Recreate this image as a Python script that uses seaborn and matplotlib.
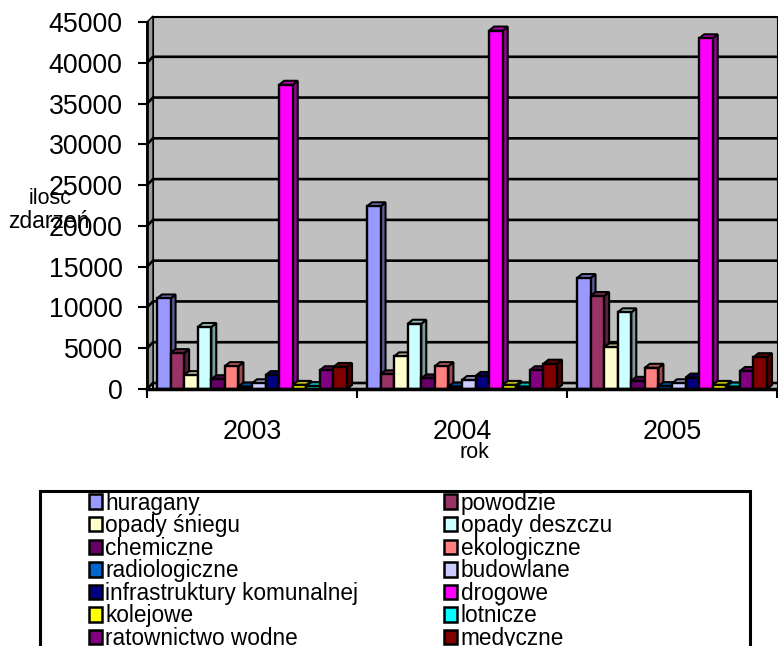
import matplotlib
matplotlib.use('Agg')
import matplotlib.pyplot as plt
from matplotlib.patches import Polygon, Rectangle
from matplotlib.transforms import IdentityTransform
import seaborn as sns
import pandas as pd

years = ['2003', '2004', '2005']
types = ['huragany', 'powodzie', 'opady śniegu', 'opady deszczu', 'chemiczne', 'ekologiczne',
         'radiologiczne', 'budowlane', 'infrastruktury komunalnej', 'drogowe', 'kolejowe',
         'lotnicze', 'ratownictwo wodne', 'medyczne']
colors = ['#9999FF', '#993366', '#FFFFCC', '#CCFFFF', '#660066', '#FF8080', '#0066CC',
          '#CCCCFF', '#000080', '#FF00FF', '#FFFF00', '#00FFFF', '#800080', '#800000']
v2003 = [11100, 4400, 1700, 7600, 1200, 2800, 300, 700, 1700, 37300, 500, 350, 2300, 2700]
v2004 = [22400, 1800, 4000, 8000, 1300, 2800, 300, 1100, 1600, 43950, 500, 300, 2300, 3100]
v2005 = [13600, 11400, 5100, 9400, 1000, 2600, 350, 700, 1400, 43000, 500, 300, 2200, 3900]

W, H = 778, 646
DX, DY = 6, 6

df = pd.DataFrame({'rok': years, **{t: [a, b, c] for t, a, b, c in zip(types, v2003, v2004, v2005)}})
df = df.melt(id_vars='rok', var_name='typ', value_name='ilosc')

sns.set_theme(style='white')
plt.rcParams['font.family'] = ['Liberation Sans', 'DejaVu Sans']

fig = plt.figure(figsize=(W / 100, H / 100), dpi=100)
ax = fig.add_axes([147 / W, 1 - 389 / H, 630 / W, 367 / H])

sns.barplot(data=df, x='rok', y='ilosc', hue='typ', hue_order=types, palette=colors, saturation=1,
            width=0.905, gap=0, edgecolor='black', linewidth=1.7, ax=ax, zorder=5)

ax.set_xlim(-0.5, 2.5)
ax.set_ylim(0, 45000)
ax.patch.set_visible(False)
for s in ['top', 'right']:
    ax.spines[s].set_visible(False)
ax.spines['left'].set_linewidth(2)
ax.spines['bottom'].set_linewidth(2.5)
ax.spines['bottom'].set_zorder(12)
ax.spines['left'].set_color('black')
ax.spines['bottom'].set_color('black')

ax.set_yticks(range(0, 45001, 5000))
ax.tick_params(axis='y', labelsize=19.3, length=6.5, width=1.5, color='black', left=True, pad=11, labelcolor='black')
ax.set_xticks([0, 1, 2], years)
ax.set_xticks([-0.5, 0.5, 1.5, 2.5], minor=True)
ax.tick_params(axis='x', which='major', length=0, labelsize=19.3, pad=21.5, labelcolor='black')
ax.tick_params(axis='x', which='minor', length=6.5, width=1.5, color='black', bottom=True)
ax.set_xlabel('')
ax.set_ylabel('')
ax.legend_.remove()

# scianki wykresu
to_px = ax.transData.transform
x0, y0 = to_px((-0.5, 0))
x1, y1 = to_px((2.5, 45000))
idt = IdentityTransform()
wall = Rectangle((x0 + DX, y0), W - x0 - DX, y1 - y0 + DY - 1, transform=idt, facecolor='#C0C0C0',
                 edgecolor='black', linewidth=1.5, zorder=1)
fig.add_artist(wall)
side = Polygon([(x0, y0), (x0 + DX, y0 + DY), (x0 + DX, y1 + DY), (x0, y1)], transform=idt,
               facecolor='#9A9A9A', edgecolor='black', linewidth=1, zorder=1)
fig.add_artist(side)
for v in range(0, 45000, 5000):
    _, y = to_px((0, v))
    fig.add_artist(plt.Line2D([x0, x0 + DX, W], [y, y + DY, y + DY], transform=idt,
                              color='black', linewidth=1.9, zorder=1.5))
ax.set_zorder(3)

# boki i wierzch slupkow
def shade(c, f):
    r, g, b = matplotlib.colors.to_rgb(c)
    return (r * f, g * f, b * f)

for container, col in zip(ax.containers, colors):
    for bar in container:
        bx, by = to_px((bar.get_x(), bar.get_height()))
        ex, base = to_px((bar.get_x() + bar.get_width(), 0))
        d = 5
        ax.add_patch(Polygon([(ex, base), (ex + d, base + 4), (ex + d, by + 4), (ex, by)], transform=idt,
                             facecolor=shade(col, 0.6), edgecolor='black', linewidth=1.5, zorder=4))
        ax.add_patch(Polygon([(bx, by), (bx + d, by + 4), (ex + d, by + 4), (ex, by)], transform=idt,
                             facecolor=shade(col, 0.75), edgecolor='black', linewidth=1.5, zorder=4))

ax.text(50 / W, 1 - 198 / H, 'ilosc', transform=fig.transFigure, fontsize=15.5, ha='center', va='center',
        color='black', zorder=20)
ax.text(49 / W, 1 - 222 / H, 'zdarzeń', transform=fig.transFigure, fontsize=16.5, ha='center', va='center',
        color='black', zorder=20)
ax.text(474 / W, 1 - 452 / H, 'rok', transform=fig.transFigure, fontsize=15.5, ha='center', va='center',
        color='black', zorder=20)

# legenda
fig.add_artist(Rectangle((40 / W, -0.01), 710 / W, 1 - 491 / H + 0.01, transform=fig.transFigure,
                         facecolor='white', edgecolor='black', linewidth=2.2))
handles = [Rectangle((0, 0), 1, 1, facecolor=c, edgecolor='black', linewidth=1.8) for c in colors]
order = list(range(0, 14, 2)) + list(range(1, 14, 2))
leg = fig.legend([handles[i] for i in order], [types[i] for i in order], ncol=2, frameon=False,
                 loc='upper left', bbox_to_anchor=(83 / W, 1 - 486 / H), fontsize=16.3, labelcolor='black',
                 handlelength=0.58, handleheight=0.6, handletextpad=0.15, columnspacing=3.8,
                 labelspacing=-0.02, borderpad=0.25, borderaxespad=0)
leg.set_zorder(10)

fig.savefig('out.png', dpi=100)
